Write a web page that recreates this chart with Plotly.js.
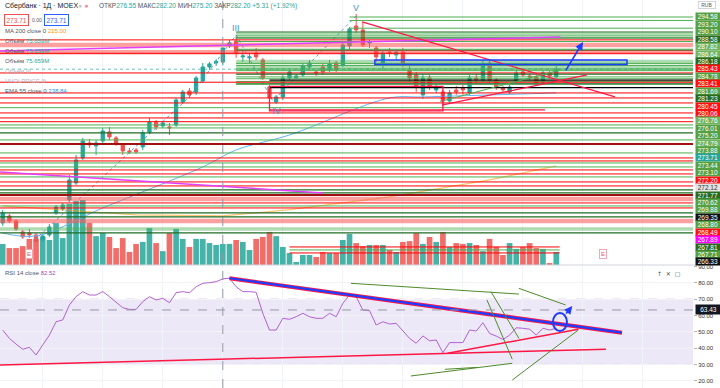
<!DOCTYPE html>
<html>
<head>
<meta charset="utf-8">
<script src="https://cdn.plot.ly/plotly-3.0.1.min.js"></script>
<style>
html,body{margin:0;padding:0;background:#fff;overflow:hidden;}
#chart{width:720px;height:388px;}
</style>
</head>
<body>
<div id="chart"></div>
<script>
// ---------------- DATA ----------------
const openP  = [212.2,215.0,213.0,208.6,208.2,207.4,205.4,207.4,216.2,217.8,
                221.4,228.2,238.2,244.2,243.0,245.0,248.6,246.2,243.4,241.0,
                241.4,242.6,248.6,252.6,251.0,250.6,251.4,260.6,265.0,264.6,
                269.0,274.6,276.2,276.55,283.0,285.0,278.6,278.2,280.2,277.4,
                266.6,260.6,262.6,270.2,270.2,271.4,274.6,272.6,274.6,273.4,
                276.2,275.4,283.0,291.0,289.4,284.2,282.2,276.2,280.6,279.4,
                280.6,273.4,271.4,263.4,270.2,265.4,264.6,261.0,265.4,266.2,
                264.2,270.2,269.4,276.2,269.4,266.2,264.6,269.0,272.6,271.0,
                270.6,268.6,272.2,270.6];
const highP  = [217.4,215.8,213.8,209.4,209.8,208.2,207.8,211.8,219.4,220.2,
                231.4,239.4,246.2,245.8,245.4,250.2,250.6,247.0,244.2,242.2,
                242.2,249.4,254.2,253.4,253.0,252.2,262.2,265.4,266.2,271.0,
                276.2,276.6,277.8,282.20,285.4,287.0,281.4,280.2,282.2,278.2,
                267.4,263.4,271.4,273.4,271.8,276.2,277.4,273.4,275.8,277.4,
                277.0,284.2,290.6,295.8,292.6,285.4,283.0,281.4,282.2,281.4,
                282.2,275.0,272.6,271.8,271.4,267.8,265.4,265.4,267.0,267.4,
                271.4,271.8,277.4,277.4,270.2,267.0,267.4,273.4,273.4,271.8,
                271.4,273.0,273.0,275.0];
const lowP   = [211.0,212.2,209.0,205.8,206.2,204.2,204.6,206.6,215.4,217.0,
                220.6,227.4,237.4,242.2,239.4,244.2,245.4,243.0,239.4,239.8,
                239.8,241.4,247.8,249.4,250.2,247.4,250.6,259.8,262.2,263.4,
                268.2,273.4,275.0,275.20,282.2,278.2,276.6,276.2,277.4,269.4,
                261.4,259.8,261.4,269.4,269.8,270.6,273.4,271.0,271.4,272.6,
                272.6,274.6,281.4,288.2,282.6,282.2,276.6,273.4,278.6,277.4,
                274.6,268.6,264.6,261.8,265.4,264.2,259.0,259.8,263.4,263.4,
                263.0,267.8,268.6,268.2,265.4,264.6,263.8,268.2,270.6,269.4,
                267.0,267.8,269.8,270.2];
const closeP = [216.2,213.0,209.8,206.6,207.4,205.0,207.0,210.6,218.6,219.4,
                229.4,237.4,245.0,243.4,244.2,249.0,246.6,243.8,241.0,240.6,
                240.6,248.2,252.6,250.6,252.2,250.2,261.4,264.6,263.4,270.2,
                274.6,275.8,276.89,282.20,284.2,280.2,279.0,278.6,278.6,270.2,
                262.2,262.6,270.2,272.6,271.0,275.0,276.2,272.2,272.6,275.8,
                273.4,283.4,289.8,289.4,283.4,284.6,278.6,280.2,280.2,280.6,
                275.8,270.2,267.0,270.2,266.6,266.6,261.0,264.2,264.6,265.4,
                270.2,269.4,275.8,269.4,266.6,265.4,266.6,272.2,271.4,270.6,
                267.8,272.2,271.0,273.71];
const volumeM = [75.6,61,61,68,94,94,101,90,151,97,
                 220,230,234,151,104,115,101,61,97,47,
                 76,83,133,79,50,115,130,94,65,94,
                 94,79,72,75.659,76,90,83,54,94,101,
                 119,104,65,43,11,36,36,29,47,43,
                 43,90,112,79,68,72,72,72,54,47,
                 83,86,115,76,101,83,119,65,79,76,
                 79,72,50,94,65,36,79,58,65,79,
                 61,58,7,47];
const rsi14 = [51.1,46.0,42.5,39.3,40.5,35.8,42.0,48.0,56.2,57.3,
               66.5,71.6,74.7,72.6,72.6,74.7,71.6,67.9,64.8,63.8,
               63.8,68.5,71.6,69.6,70.6,67.9,74.0,74.7,74.0,77.7,
               79.8,80.2,80.8,82.52,82.9,77.7,74.7,74.7,74.3,61.4,
               51.1,51.1,58.3,57.7,59.3,61.4,59.3,58.3,58.3,61.4,
               59.3,67.5,72.6,71.5,63.4,63.0,54.2,56.2,54.8,55.2,
               50.5,46.0,43.0,47.5,44.5,45.0,37.2,43.4,43.4,43.4,
               51.1,50.5,55.6,49.0,47.4,45.3,48.0,52.5,52.2,51.6,
               48.0,52.2,51.1,52.2];

// indicator lines (sampled points)
const ema55Bars = [0, 5, 15, 30, 35, 43, 58, 63, 83];
const ema55Vals = [208.2, 207.0, 218.2, 234.6, 241.4, 247.4, 262.2, 262.6, 264.2];
const ma200Bars = [0, 20, 33, 43, 58, 73, 83];
const ma200Vals = [219.0, 215.4, 215.0, 217.5, 222.6, 229.4, 235.0];

// Elliott wave path and labels
const waveBars = [4.8, 28, 35, 40.5, 53];
const waveVals = [205.4, 262.6, 287.4, 261.0, 295.0];
const waveLabels = ['III', 'IV', 'V'];
const waveLabelBars = [35, 41, 53];
const waveLabelVals = [290.2, 257.0, 298.2];

// horizontal levels with price-scale labels (top to bottom)
const levelPrices = [294.58,293.20,290.10,288.58,287.82,286.64,286.18,285.43,284.78,283.41,
                     281.69,281.23,280.45,280.06,276.76,276.01,275.20,274.79,273.88,273.71,
                     273.44,273.10,272.20,272.12,271.77,270.62,269.88,269.35,268.80,268.49,
                     267.89,267.81,267.71,266.33];
const levelTypes  = ['g','g','g','dg','lg','lg','dg','r','g','pk',
                     'g','dg','pk','r','lg','g','g','lg','g','cur',
                     'g','g','r','gray','dg','g','g','k','g','r',
                     'm','dg','g','k'];
// unlabeled levels lower on the chart
const lowerPrices = [264.2,262.2,260.2,258.3,256.2,254.2,252.7,251.4,250.2,248.2,
                     245.4,243.8,240.2,238.2,237.0,236.2,234.6,233.4,231.8,230.6,
                     228.6,227.0,225.4,224.2,223.4,221.8,220.2,219.0,218.2,216.2,
                     214.6,213.0,209.8,208.2,202.6,201.4,200.2];
const lowerTypes  = ['r','r','r','g','r','r','r','g','g','dg',
                     'g','dr','g','r','r','g','g','r','r','g',
                     'r','r','dg','dg','dr','pk','r','g','r','dg',
                     'dg','pk','lg','dg','r','g','r'];

// drawings (bar index, price)
const magentaLines = [[[-0.4, 281.0], [83.6, 286.6]], [[-0.4, 232.6], [48, 224.2]]];
const redLines     = [[[53.9, 292.6], [91.8, 262.6]], [[66, 259.4], [87.6, 271.4]], [[40, 257.4], [81.3, 257.4]]];
const greenLines   = [[[65.6, 260.8], [83.6, 273.4]]];
const blueBox  = [[55.8, 275.6], [93.6, 277.4]];
const redBox   = [[40, 257.0], [66, 266.8]];
const blueArrow = [[84.3, 272.6], [87, 284.6]];
const earnBars = [4, 90];

// RSI drawings (bar index, RSI)
const rsiBlue = [[34, 82.9], [92.85, 49.5]];
const rsiRed = [[[-0.4, 29.65], [90.45, 39.3]], [[66.7, 36.8], [86.3, 51.6]]];
const rsiGreen = [[[52.2, 79.8], [77.4, 73.2]], [[77.4, 76.7], [84.4, 66.5]],
                  [[72.6, 69.6], [76.4, 33.2]], [[73.2, 74.7], [77.4, 46.0]],
                  [[61.2, 22.9], [76.4, 30.7]], [[66.3, 27.0], [71.2, 28.2]],
                  [[76.4, 20.4], [86.3, 51.1]]];
const rsiCircle = [[82.5, 50.5], [84.6, 61.6]];
const rsiArrow = [[84.3, 60.3], [85.4, 65.8]];
const rsiTicks = [20, 30, 40, 50, 60, 70, 80, 90];
const crossBar = 33, crossRsi = 63.43;

// ---------------- STYLE ----------------
const UP = '#26a69a', DOWN = '#ef5350';
const LINE_STYLE = {
  g:  {color: '#4caf50', width: 1},
  dg: {color: '#1e6b23', width: 1.2},
  lg: {color: 'rgba(76,175,80,0.45)', width: 3.5},
  r:  {color: '#ff0000', width: 1},
  pk: {color: 'rgba(255,82,82,0.55)', width: 4.5},
  dr: {color: '#a01010', width: 2},
  k:  {color: '#000000', width: 1.2},
  m:  {color: '#e040fb', width: 1.2},
  cur:{color: 'rgba(38,166,154,0.7)', width: 1, dash: 'dot'},
  gray:null
};
const LABEL_BG = {g:'#56a044', dg:'#2b6b1f', lg:'#72b460', r:'#ff1010', pk:'#ff1010',
                  k:'#111111', m:'#ff00ff', cur:'#26a69a', gray:'#e3e3e3', dr:'#a01010'};
const ANCHOR = {III: 35, IV: 40, V: 52};
const X_RANGE = [-0.405, 103.5];
const FONT = 'Liberation Sans, Arial, sans-serif';
const H = 388, PANE_SPLIT = 123 / H;

const bars = openP.map((_, i) => i);
const shapes = [];
const annotations = [];

function seg(p, q, yref, color, width, dash) {
  shapes.push({type: 'line', xref: 'x', yref: yref, x0: p[0], y0: p[1], x1: q[0], y1: q[1],
               line: {color: color, width: width, dash: dash || 'solid'}});
}
function levelStart(price, type) {
  if (type === 'r' || type === 'pk' || type === 'cur' || type === 'dr') return X_RANGE[0];
  if (type === 'k' || type === 'm') return ANCHOR.IV;
  return price >= 290 ? ANCHOR.V : ANCHOR.III;
}

// RSI band
shapes.push({type: 'rect', xref: 'paper', yref: 'y2', x0: 0, x1: 1, y0: 30, y1: 70,
             fillcolor: 'rgba(149,117,205,0.17)', line: {width: 0}, layer: 'below'});
[30, 70].forEach(v => shapes.push({type: 'line', xref: 'paper', yref: 'y2', x0: 0, x1: 1, y0: v, y1: v,
             line: {color: '#b8a6d9', width: 1, dash: 'dash'}, layer: 'below'}));

// lower levels
lowerPrices.forEach((p, k) => {
  const st = LINE_STYLE[lowerTypes[k]];
  const x1 = p < 203 ? 83.5 : X_RANGE[1];
  const x0 = p < 203 ? 43 : X_RANGE[0];
  seg([x0, p], [x1, p], 'y3', st.color, st.width, st.dash);
});
// labeled levels
levelPrices.forEach((p, k) => {
  const st = LINE_STYLE[levelTypes[k]];
  if (!st) return;
  seg([levelStart(p, levelTypes[k]), p], [X_RANGE[1], p], 'y3', st.color, st.width, st.dash);
});
// drawings
magentaLines.forEach(l => seg(l[0], l[1], 'y3', '#e040fb', 1.5));
redLines.forEach(l => seg(l[0], l[1], 'y3', '#ff1744', 1.2));
greenLines.forEach(l => seg(l[0], l[1], 'y3', '#4caf50', 1));
shapes.push({type: 'rect', xref: 'x', yref: 'y3', x0: blueBox[0][0], x1: blueBox[1][0],
             y0: blueBox[0][1], y1: blueBox[1][1], line: {color: '#1e3cff', width: 1.5},
             fillcolor: 'rgba(41,98,255,0.06)'});
shapes.push({type: 'rect', xref: 'x', yref: 'y3', x0: redBox[0][0], x1: redBox[1][0],
             y0: redBox[0][1], y1: redBox[1][1], line: {color: '#ff1744', width: 1.3}});

// RSI drawings
rsiRed.forEach(l => seg(l[0], l[1], 'y2', '#ff1744', 1.5));
seg(rsiBlue[0], rsiBlue[1], 'y2', '#ff1744', 4);
seg(rsiBlue[0], rsiBlue[1], 'y2', '#1f3cff', 2.2);
rsiGreen.forEach(l => seg(l[0], l[1], 'y2', '#4f8a2b', 1));
shapes.push({type: 'circle', xref: 'x', yref: 'y2', x0: rsiCircle[0][0], x1: rsiCircle[1][0],
             y0: rsiCircle[0][1], y1: rsiCircle[1][1], line: {color: '#1f3cff', width: 2}});

// crosshair
shapes.push({type: 'line', xref: 'x', yref: 'paper', x0: crossBar, x1: crossBar, y0: 0, y1: 1,
             line: {color: '#9598a1', width: 1, dash: 'dash'}});
shapes.push({type: 'line', xref: 'paper', yref: 'y2', x0: 0, x1: 1, y0: crossRsi, y1: crossRsi,
             line: {color: '#9598a1', width: 1, dash: 'dash'}});
// pane separator
shapes.push({type: 'line', xref: 'paper', yref: 'paper', x0: 0, x1: 1.04, y0: PANE_SPLIT, y1: PANE_SPLIT,
             line: {color: '#d1d4dc', width: 1}});

// arrows
annotations.push({xref: 'x', yref: 'y3', axref: 'x', ayref: 'y3', x: blueArrow[1][0], y: blueArrow[1][1],
                  ax: blueArrow[0][0], ay: blueArrow[0][1], text: '', showarrow: true,
                  arrowhead: 2, arrowsize: 1, arrowwidth: 1.6, arrowcolor: '#1f3cff'});
annotations.push({xref: 'x', yref: 'y2', axref: 'x', ayref: 'y2', x: rsiArrow[1][0], y: rsiArrow[1][1],
                  ax: rsiArrow[0][0], ay: rsiArrow[0][1], text: '', showarrow: true,
                  arrowhead: 2, arrowsize: 1, arrowwidth: 1.6, arrowcolor: '#1f3cff'});

// wave labels
waveLabels.forEach((t, k) => annotations.push({xref: 'x', yref: 'y3', x: waveLabelBars[k], y: waveLabelVals[k],
  text: t, showarrow: false, font: {family: FONT, size: 9, color: '#4f8fd0'}}));

// earnings markers
earnBars.forEach(b => annotations.push({xref: 'x', yref: 'paper', x: b, y: PANE_SPLIT + 6 / H,
  text: 'E', showarrow: false, font: {family: FONT, size: 6, color: '#ef5350'},
  bgcolor: '#ffffff', bordercolor: '#f4a6b4', borderwidth: 1, borderpad: 1}));

// price-scale labels (stacked)
levelPrices.forEach((p, k) => {
  const t = levelTypes[k];
  const yPx = 17 + k * 7.42;
  annotations.push({xref: 'paper', yref: 'paper', x: 1, xshift: 2, xanchor: 'left',
    y: 1 - yPx / H, yanchor: 'middle', text: p.toFixed(2), showarrow: false,
    width: 23, height: 6.5, align: 'center', borderpad: 0.3,
    bgcolor: LABEL_BG[t], font: {family: FONT, size: 6.5, color: t === 'gray' ? '#333' : '#ffffff'}});
});
// RUB box
annotations.push({xref: 'paper', yref: 'paper', x: 1, xshift: 5, xanchor: 'left', y: 1 - 5.5 / H,
  yanchor: 'middle', text: 'RUB', showarrow: false, font: {family: FONT, size: 5, color: '#555'},
  width: 16, height: 6, bordercolor: '#c8cad0', borderwidth: 0.8, borderpad: 0, bgcolor: '#fff'});
// crosshair RSI label
annotations.push({xref: 'paper', yref: 'y2', x: 1, xshift: 2, xanchor: 'left', y: crossRsi,
  text: crossRsi.toFixed(2), showarrow: false, width: 23, height: 7, bgcolor: '#131722',
  font: {family: FONT, size: 6.5, color: '#fff'}});

// header / legend
function txt(xPx, yPx, html, size, extra) {
  annotations.push(Object.assign({xref: 'paper', yref: 'paper', x: xPx / 693, y: 1 - yPx / H,
    xanchor: 'left', yanchor: 'middle', text: html, showarrow: false,
    font: {family: FONT, size: size, color: '#131722'}}, extra || {}));
}
const T = (s) => '<span style="color:#26a69a">' + s + '</span>';
txt(3, 6, 'Сбербанк · 1Д · MOEX', 7);
txt(76, 6, '<span style="color:#c9cbd1">●</span> <span style="color:#f28b9b">●</span>', 7);
txt(97, 6, 'ОТКР' + T('276.55') + ' МАКС' + T('282.20') + ' МИН' + T('275.20') + ' ЗАКР' + T('282.20') +
    ' ' + T('+5.31 (+1.92%)'), 6.5, {font: {family: FONT, size: 6.5, color: '#50535e'}});
txt(4, 20, '273.71', 6.5, {font: {family: FONT, size: 6.5, color: '#ef5350'}, bordercolor: '#ef5350',
    borderwidth: 1, borderpad: 1.5});
txt(30, 20, '0.00', 5, {font: {family: FONT, size: 5, color: '#50535e'}});
txt(44, 20, '273.71', 6.5, {font: {family: FONT, size: 6.5, color: '#2962ff'}, bordercolor: '#2962ff',
    borderwidth: 1, borderpad: 1.5});
txt(3, 31, 'MA 200 close 0 <span style="color:#ff9800">215.00</span>', 6, {font: {family: FONT, size: 6, color: '#50535e'}});
[41, 51, 61].forEach(y => txt(3, y, 'Объём ' + T('75.659M'), 6, {font: {family: FONT, size: 6, color: '#50535e'}}));
txt(3, 71, 'Объём ⊘', 6, {font: {family: FONT, size: 6, color: '#b2b5be'}});
txt(3, 81, 'HVOLPRICE ⊘', 6, {font: {family: FONT, size: 6, color: '#b2b5be'}});
txt(3, 91, 'EMA 55 close 0 <span style="color:#2196f3">238.84</span>', 6, {font: {family: FONT, size: 6, color: '#50535e'}});
txt(3, 273, 'RSI 14 close <span style="color:#ab47bc">82.52</span>', 6, {font: {family: FONT, size: 6, color: '#50535e'}});
txt(655, 273, '↑  ✕  ▢', 6, {font: {family: 'DejaVu Sans', size: 6, color: '#50535e'}});

// ---------------- TRACES ----------------
const traces = [
  {type: 'bar', x: bars, y: volumeM, xaxis: 'x', yaxis: 'y',
   marker: {color: bars.map(i => closeP[i] >= openP[i] ? 'rgba(38,166,154,0.85)' : 'rgba(239,83,80,0.85)'),
            line: {width: 0}}, hoverinfo: 'skip'},
  {type: 'scatter', mode: 'lines', x: ma200Bars, y: ma200Vals, xaxis: 'x', yaxis: 'y3',
   line: {color: 'rgba(255,152,0,0.55)', width: 1.2}, hoverinfo: 'skip'},
  {type: 'scatter', mode: 'lines', x: ema55Bars, y: ema55Vals, xaxis: 'x', yaxis: 'y3',
   line: {color: '#64b5f6', width: 1, shape: 'spline'}, hoverinfo: 'skip'},
  {type: 'scatter', mode: 'lines', x: waveBars, y: waveVals, xaxis: 'x', yaxis: 'y3',
   line: {color: '#5b9bd5', width: 1, dash: 'dot'}, hoverinfo: 'skip'},
  {type: 'candlestick', x: bars, open: openP, high: highP, low: lowP, close: closeP,
   xaxis: 'x', yaxis: 'y3', whiskerwidth: 0,
   increasing: {line: {color: UP, width: 1}, fillcolor: UP},
   decreasing: {line: {color: DOWN, width: 1}, fillcolor: DOWN}, hoverinfo: 'skip'},
  {type: 'scatter', mode: 'lines', x: bars, y: rsi14, xaxis: 'x', yaxis: 'y2',
   line: {color: '#b061d0', width: 1}, hoverinfo: 'skip'}
];

const layout = {
  width: 720, height: 388, margin: {l: 0, r: 27, t: 0, b: 0},
  paper_bgcolor: '#ffffff', plot_bgcolor: '#ffffff', showlegend: false,
  bargap: 0.15,
  xaxis: {range: X_RANGE, anchor: 'y2', showticklabels: false, tickmode: 'linear', tick0: 6, dtick: 9,
          showgrid: true, gridcolor: '#f0f3fa', zeroline: false, rangeslider: {visible: false},
          fixedrange: true},
  yaxis: {domain: [PANE_SPLIT, 1], range: [0, 954], showticklabels: false, showgrid: false,
          zeroline: false, fixedrange: true},
  yaxis3: {overlaying: 'y', range: [195.38, 301.38], showticklabels: false, showgrid: false,
           zeroline: false, side: 'right', fixedrange: true},
  yaxis2: {domain: [0, 122 / H], range: [15.52, 90.43], side: 'right', tickmode: 'array',
           tickvals: rsiTicks, ticktext: rsiTicks.map(v => v.toFixed(2)),
           tickfont: {family: FONT, size: 6, color: '#333'}, ticks: 'outside', ticklen: 3,
           tickcolor: '#b2b5be', showgrid: true, gridcolor: '#f3f3f7', zeroline: false, fixedrange: true},
  shapes: shapes,
  annotations: annotations
};

Plotly.newPlot('chart', traces, layout, {displayModeBar: false, staticPlot: true});
</script>
</body>
</html>
